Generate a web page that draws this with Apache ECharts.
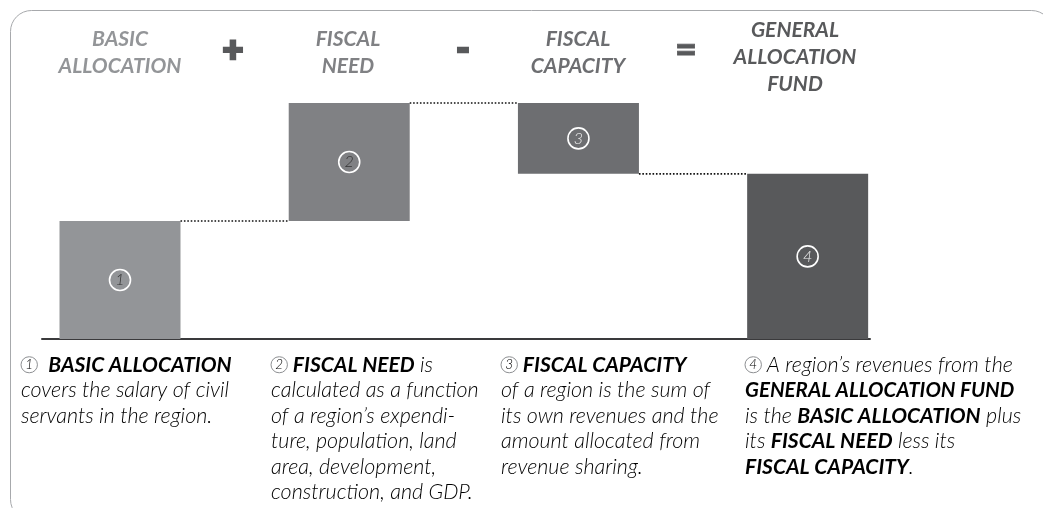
<!DOCTYPE html>
<html>
<head>
<meta charset="utf-8">
<script src="https://cdn.jsdelivr.net/npm/echarts@6/dist/echarts.min.js"></script>
<style>
html,body{margin:0;padding:0;background:#fff;}
#chart{width:1043px;height:508px;}
</style>
</head>
<body>
<div id="chart"></div>
<script>
// ---- data ----
const categories = ['BASIC ALLOCATION', 'FISCAL NEED', 'FISCAL CAPACITY', 'GENERAL ALLOCATION FUND'];
const values = [5, 5, 3, 7];            // bar heights (relative units)
const signs = [1, 1, -1, 0];            // +, +, -, total
const markers = ['1', '2', '3', '4'];
const headerLines = [['BASIC', 'ALLOCATION'], ['FISCAL', 'NEED'], ['FISCAL', 'CAPACITY'], ['GENERAL', 'ALLOCATION', 'FUND']];
const operators = ['+', '-', '='];
const notes = [
  ['{n|1}{t|  }{b1|BASIC ALLOCATION}', '{t|covers the salary of civil}', '{t|servants in the region.}'],
  ['{n|2}{t| }{b2|FISCAL NEED}{t| is}', '{t|calculated as a function}', '{t|of a region\u2019s expendi-}', '{t|ture, population, land}', '{t|area, development,}', '{t|construction, and GDP.}'],
  ['{n|3}{t| }{b3|FISCAL CAPACITY}', '{t|of a region is the sum of}', '{t|its own revenues and the}', '{t|amount allocated from}', '{t|revenue sharing.}'],
  ['{n|4}{t| A region\u2019s revenues from the}', '{b4|GENERAL ALLOCATION FUND}', '{t|is the }{b5|BASIC ALLOCATION}{t| plus}', '{t|its }{b2|FISCAL NEED}{t| less its}', '{b3|FISCAL CAPACITY}{t|.}']
];

// ---- styles ----
const barColors = ['#939598', '#808184', '#6d6e71', '#58595b'];
const BAR_W = 121;
const FONT = 'Lato, "Open Sans", sans-serif';

// waterfall ranges
const ranges = [];
let run = 0;
values.forEach(function (v, i) {
  if (signs[i] === 1) { ranges.push([i, run, run + v]); run += v; }
  else if (signs[i] === -1) { ranges.push([i, run - v, run]); run -= v; }
  else { ranges.push([i, 0, v]); }
});
const connectors = [];
for (let i = 0; i < ranges.length - 1; i++) {
  const lvl = signs[i] === -1 ? ranges[i][1] : ranges[i][2];
  connectors.push([i, lvl]);
}

const chart = echarts.init(document.getElementById('chart'), null, { renderer: 'canvas' });

const graphics = [];
// frame
graphics.push({
  type: 'rect', silent: true, z: 0,
  shape: { x: 10.5, y: 10.5, width: 1042, height: 510, r: 21 },
  style: { fill: 'none', stroke: '#a7a9ac', lineWidth: 1 }
});
// headers
const headerX = [120, 348, 578, 795];
headerLines.forEach(function (lines, i) {
  graphics.push({
    type: 'text', silent: true, z: 5,
    x: headerX[i], y: lines.length === 3 ? 17 : 26,
    style: {
      text: lines.join('\n'), align: 'center', verticalAlign: 'top',
      fill: barColors[i], font: 'italic bold 21px ' + FONT, lineHeight: 27
    }
  });
});
const opX = [233, 463, 686];
const opY = [50, 49, 50];
const opSize = [36, 36, 38];
const opStroke = [2.5, 2.5, 0.8];
operators.forEach(function (op, i) {
  graphics.push({
    type: 'text', silent: true, z: 5,
    x: opX[i], y: opY[i],
    style: {
      text: op, align: 'center', verticalAlign: 'middle',
      fill: '#58595b', font: '900 ' + opSize[i] + 'px ' + FONT,
      stroke: '#58595b', lineWidth: opStroke[i]
    }
  });
});
// notes
const noteX = [21, 271, 501, 745];
const LH = 25.5;
function tok(color, weight, size) {
  return { color: color, fontSize: size, fontStyle: 'italic', fontWeight: weight, lineHeight: LH, fontFamily: FONT };
}
const noteRich = {
  n: { height: 16, lineHeight: 16, padding: [0, 4.3, 0, 4.3], borderRadius: 9, borderColor: '#8d8f92', borderWidth: 1, color: '#8d8f92', fontSize: 13.5, fontStyle: 'italic', fontWeight: 300, fontFamily: FONT },
  t: tok('#231f20', 300, 21.5),
  b1: tok('#939598', 'bold', 21),
  b2: tok('#808184', 'bold', 21),
  b3: tok('#6d6e71', 'bold', 21),
  b4: tok('#58595b', 'bold', 20.5),
  b5: tok('#a7a9ac', 'bold', 21)
};
notes.forEach(function (lines, i) {
  graphics.push({
    type: 'text', silent: true, z: 5,
    x: noteX[i], y: 352,
    style: { text: lines.join('\n'), rich: noteRich, align: 'left', verticalAlign: 'top' }
  });
});

chart.setOption({
  animation: false,
  backgroundColor: '#fff',
  grid: { left: 42, right: 173, top: 103, bottom: 169, containLabel: false },
  xAxis: {
    type: 'value', min: -0.3403, max: 3.272,
    axisLine: { show: true, onZero: true, lineStyle: { color: '#3a3a3c', width: 2 } },
    axisTick: { show: false }, axisLabel: { show: false }, splitLine: { show: false }
  },
  yAxis: {
    type: 'value', min: 0, max: 10, show: false, splitLine: { show: false }
  },
  series: [
    {
      name: 'bars', type: 'custom', encode: { x: 0, y: [1, 2] },
      data: ranges,
      renderItem: function (params, api) {
        const i = api.value(0), lo = api.value(1), hi = api.value(2);
        const p0 = api.coord([i, lo]), p1 = api.coord([i, hi]);
        return {
          type: 'rect',
          shape: { x: p0[0] - BAR_W / 2, y: p1[1], width: BAR_W, height: p0[1] - p1[1] },
          style: { fill: barColors[params.dataIndex] },
          textContent: {
            style: {
              text: '{c|' + markers[params.dataIndex] + '}',
              rich: { c: { width: 21, height: 21, borderRadius: 12, borderColor: '#fff', borderWidth: 1.6, color: '#fff', align: 'center', fontSize: 16, fontStyle: 'italic', fontWeight: 300, fontFamily: FONT, lineHeight: 21 } }
            }
          },
          textConfig: { position: 'inside' }
        };
      },
      z: 2
    },
    {
      name: 'connectors', type: 'custom', encode: { x: 0, y: 1 },
      data: connectors,
      renderItem: function (params, api) {
        const i = api.value(0), v = api.value(1);
        const a = api.coord([i, v]), b = api.coord([i + 1, v]);
        return {
          type: 'line',
          shape: { x1: a[0] + BAR_W / 2, y1: a[1], x2: b[0] - BAR_W / 2, y2: b[1] },
          style: { stroke: '#111', lineWidth: 1.7, lineDash: [1.6, 1.8] }
        };
      },
      z: 3
    }
  ],
  graphic: graphics
});
</script>
</body>
</html>
